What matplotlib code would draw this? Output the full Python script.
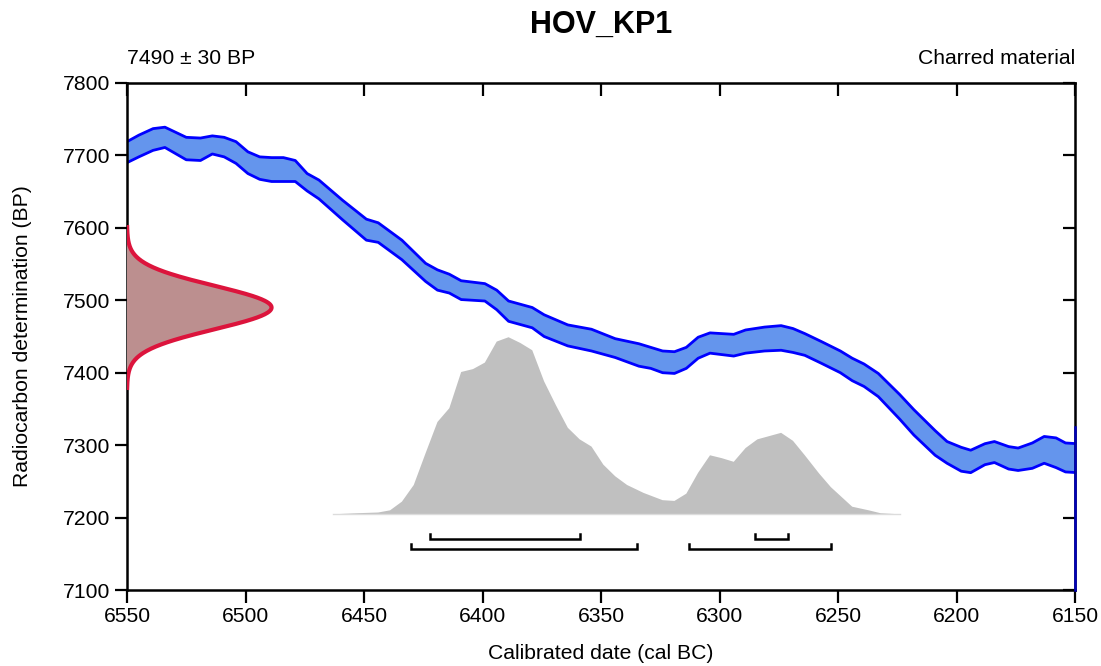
import numpy as np
import matplotlib
matplotlib.use('Agg')
import matplotlib.pyplot as plt

plt.rcParams['font.family'] = ['Liberation Sans', 'DejaVu Sans']

# measurement
sample_name = 'HOV_KP1'
c14_mean = 7490
c14_err = 30
material = 'Charred material'

# calibration curve band (cal BC, upper / lower BP)
curve_years = [6555, 6550, 6545, 6539, 6534, 6525, 6519, 6514, 6509, 6504, 6499, 6494,
               6489, 6484, 6479, 6474, 6469, 6459, 6449, 6444, 6434, 6424, 6419, 6414,
               6409, 6399, 6394, 6389, 6379, 6374, 6364, 6354, 6344, 6334, 6329, 6324,
               6319, 6314, 6309, 6304, 6294, 6289, 6281, 6274, 6269, 6264, 6257, 6249,
               6244, 6239, 6233, 6224, 6218, 6209, 6204, 6198, 6194, 6188, 6184, 6178,
               6174, 6168, 6163, 6158, 6154, 6149, 6145]
curve_upper = [7712, 7719, 7728, 7737, 7739, 7725, 7724, 7727, 7725, 7719, 7705, 7698,
               7697, 7697, 7693, 7675, 7666, 7638, 7612, 7607, 7583, 7551, 7542, 7536,
               7527, 7523, 7514, 7499, 7490, 7480, 7466, 7460, 7447, 7440, 7435, 7430,
               7429, 7435, 7449, 7455, 7453, 7459, 7463, 7465, 7461, 7454, 7443, 7430,
               7420, 7412, 7399, 7370, 7349, 7320, 7305, 7297, 7293, 7302, 7305, 7298,
               7296, 7303, 7312, 7310, 7303, 7302, 7300]
curve_lower = [7684, 7690, 7698, 7707, 7711, 7694, 7693, 7702, 7698, 7689, 7675, 7667,
               7664, 7664, 7664, 7651, 7640, 7611, 7583, 7580, 7556, 7526, 7514, 7510,
               7501, 7499, 7487, 7471, 7462, 7450, 7437, 7430, 7421, 7409, 7406, 7400,
               7399, 7406, 7420, 7427, 7423, 7427, 7430, 7431, 7428, 7424, 7413, 7400,
               7389, 7381, 7367, 7336, 7314, 7286, 7275, 7264, 7262, 7273, 7276, 7267,
               7265, 7268, 7275, 7269, 7263, 7262, 7260]

# calibrated probability (height above baseline, BP units)
post_years = [6463, 6453, 6444, 6439, 6434, 6429, 6424, 6419, 6414, 6409, 6404, 6399,
              6394, 6389, 6384, 6379, 6374, 6369, 6364, 6359, 6354, 6349, 6344, 6339,
              6332, 6324, 6319, 6314, 6309, 6304, 6299, 6294, 6289, 6284, 6274, 6269,
              6264, 6258, 6253, 6248, 6244, 6237, 6232, 6224]
post_height = [0, 1.5, 2.5, 5.5, 17.5, 40.5, 84.5, 127.5, 146.5, 196.5, 200.5, 209.5,
               238.5, 244.5, 236.5, 226.5, 183.5, 150.5, 119.5, 103.5, 93.5, 68.5, 52.5, 40.5,
               29.5, 19.5, 18.5, 28.5, 57.5, 81.5, 77.5, 72.5, 91.5, 103.5, 112.5, 101.5,
               81.5, 56.5, 37.5, 22.5, 10.5, 5.5, 1.5, 0]
post_base = 7204.5

# hpd ranges (cal BC)
range_68 = [(6422, 6359), (6285, 6271)]
range_95 = [(6430, 6335), (6313, 6253)]

fs = 15.2

fig = plt.figure(figsize=(11.01, 6.66), dpi=100)
ax = fig.add_axes([127/1101, 1-590/666, 948/1101, 507/666])

# grey posterior
ax.fill_between(post_years, post_base, [post_base+h for h in post_height],
                facecolor='#c0c0c0', edgecolor='none', zorder=1)
ax.plot([post_years[0], post_years[-1]], [post_base, post_base], color='#dcdcdc', lw=1, zorder=1)

# calibration band
ax.fill_between(curve_years, curve_lower, curve_upper, facecolor='#6495ed', edgecolor='none', zorder=2)
ax.plot(curve_years, curve_upper, color='#0000ff', lw=2.0, zorder=2)
ax.plot(curve_years, curve_lower, color='#0000ff', lw=2.0, zorder=2)
ax.plot([6150, 6150], [7100, 7325], color='#0000bb', lw=1.8, zorder=3, clip_on=False)

# radiocarbon likelihood on the y axis
yy = np.linspace(c14_mean-3.7*c14_err, c14_mean+3.7*c14_err, 300)
prob = np.exp(-0.5*((yy-c14_mean)/c14_err)**2)
xx = 6550 - 61*prob
ax.fill_betweenx(yy, 6550, xx, facecolor='#bc8f8f', edgecolor='none', zorder=3)
ax.plot(xx, yy, color='#dc143c', lw=3.0, zorder=4)

# range brackets
def bracket(r, y):
    for a, b in r:
        ax.plot([a, a, b, b], [y+7, y, y, y+7], color='black', lw=1.8,
                solid_joinstyle='miter', zorder=4)

bracket(range_68, 7171)
bracket(range_95, 7156)

ax.set_xlim(6550, 6150)
ax.set_ylim(7100, 7800)
xt = np.arange(6550, 6149, -50)
yt = np.arange(7100, 7801, 100)
ax.set_xticks(xt)
ax.set_yticks(yt)
ax.tick_params(direction='out', length=9, width=1.6, labelsize=fs, pad=3)
for s in ax.spines.values():
    s.set_linewidth(1.8)

top = ax.secondary_xaxis('top')
top.set_xticks(xt)
top.set_xticklabels([])
top.tick_params(direction='in', length=9, width=1.6)
right = ax.secondary_yaxis('right')
right.set_yticks(yt)
right.set_yticklabels([])
right.tick_params(direction='in', length=9, width=1.6)

ax.set_xlabel('Calibrated date (cal BC)', fontsize=fs, labelpad=13)
ax.set_ylabel('Radiocarbon determination (BP)', fontsize=fs, labelpad=22)

fig.text(601/1101, 1-25/666, sample_name, ha='center', va='center', fontsize=22, fontweight='bold')
fig.text(127/1101, 1-59/666, '%d \u00b1 %d BP' % (c14_mean, c14_err), ha='left', va='center', fontsize=fs)
fig.text(1075/1101, 1-59/666, material, ha='right', va='center', fontsize=fs)

fig.savefig('out.png', dpi=100)
plt.close()
